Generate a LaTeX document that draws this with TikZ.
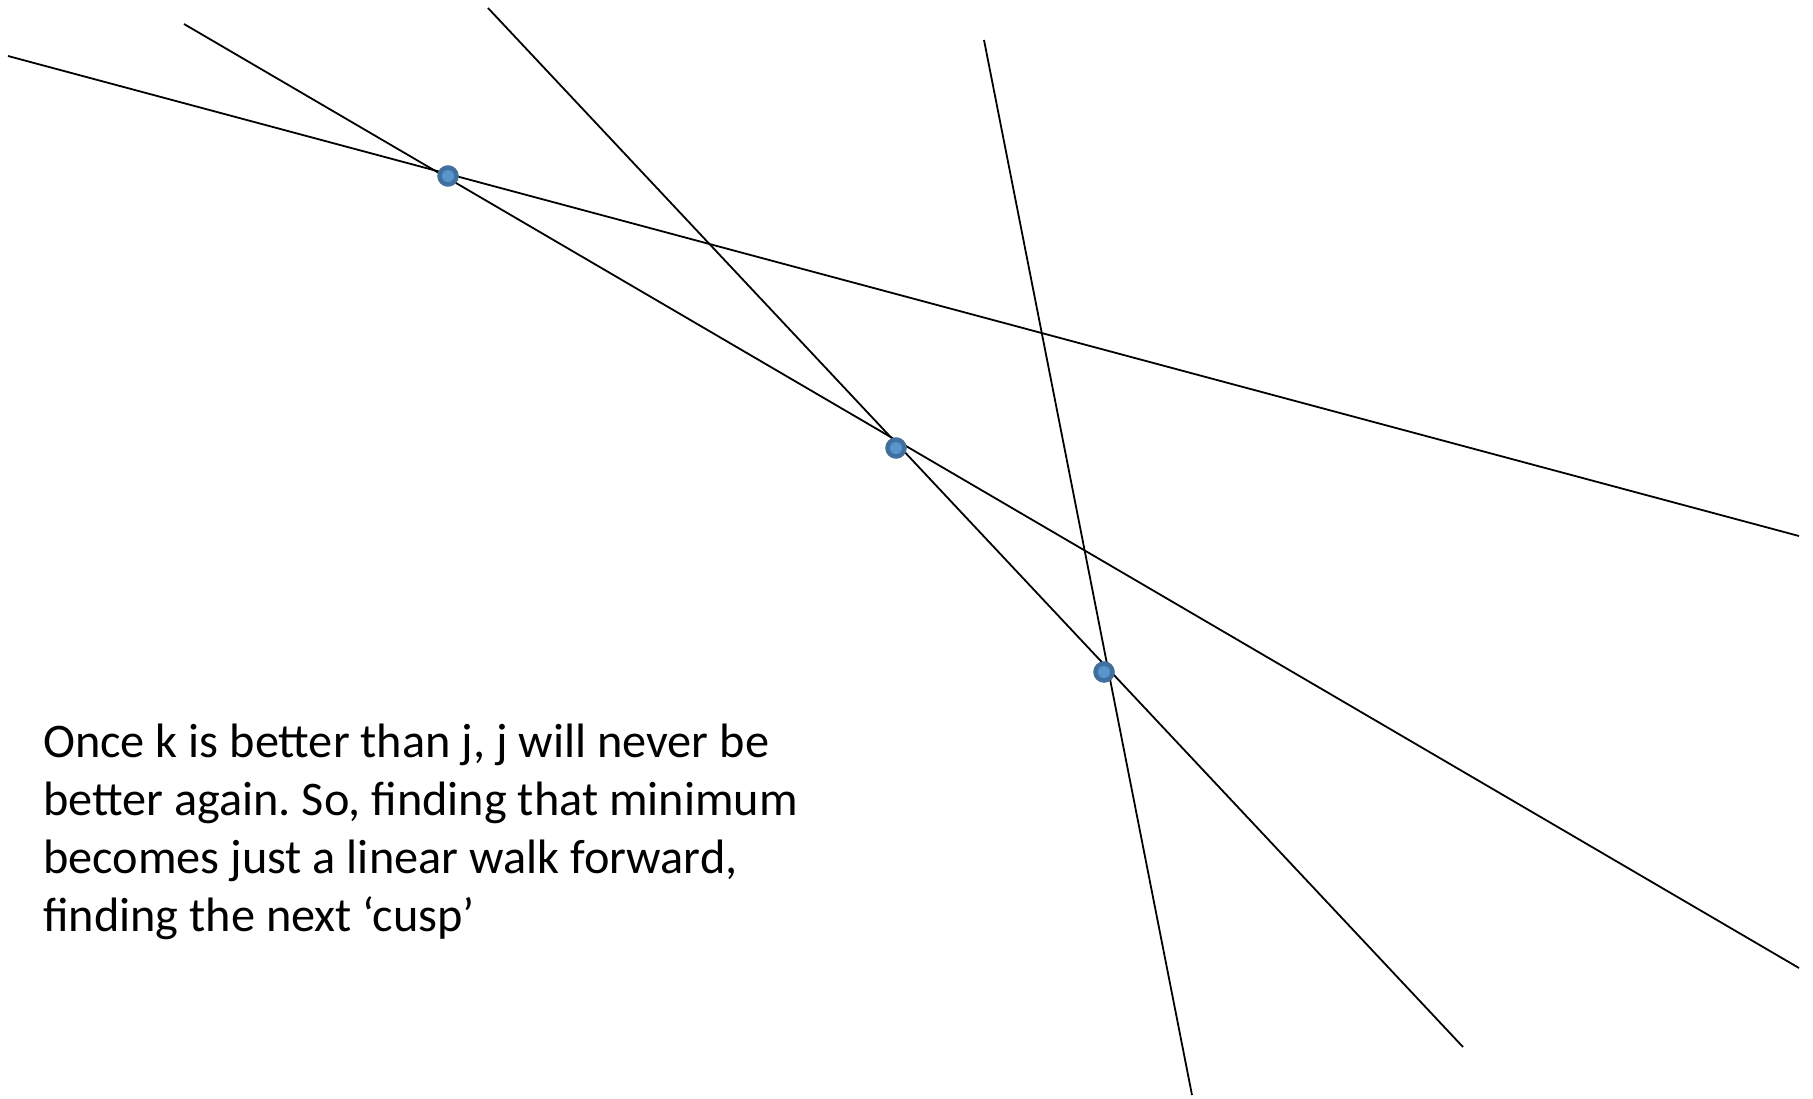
\documentclass[tikz,border=0pt]{standalone}
\usepackage{fontspec}
\setmainfont{Carlito}
\usetikzlibrary{positioning}
\definecolor{cuspFill}{HTML}{5B93CD}
\definecolor{cuspRim} {HTML}{41709E}
\frenchspacing

\begin{document}
\begin{tikzpicture}[x=1pt,y=-1pt,
      ln/.style={draw=black,line width=1.8pt,line cap=butt},
      cusp/.style={circle,draw=cuspRim,fill=cuspFill,line width=4.5pt,
                   minimum size=17pt,inner sep=0pt},
      note/.style={align=left,anchor=north west,inner sep=0pt,
                   font=\fontsize{48.3}{57.8}\selectfont}]
    \useasboundingbox (0,0) rectangle (1813,1098);

    % line end points
    \coordinate (a0) at (8,56);    \coordinate (a1) at (1799,536);
    \coordinate (b0) at (184,24);  \coordinate (b1) at (1799,968);
    \coordinate (c0) at (488,8);   \coordinate (c1) at (1463,1047);
    \coordinate (d0) at (984,40);  \coordinate (d1) at (1192,1095);

    \foreach \a/\b in {a0/a1,b0/b1,c0/c1,d0/d1}
      \draw[ln] (\a) -- (\b);

    \node[cusp] (p1) at (448,176) {};
    \node[cusp] (p2) at (896,448) {};
    \node[cusp] (p3) at (1104,672) {};

    \node[note] (txt) at (43,724) {Once k is better than j, j will never be\\
      better again. So, finding that minimum\\
      becomes just a linear walk forward,\\
      finding the next ‘cusp’};
  \end{tikzpicture}
\end{document}
